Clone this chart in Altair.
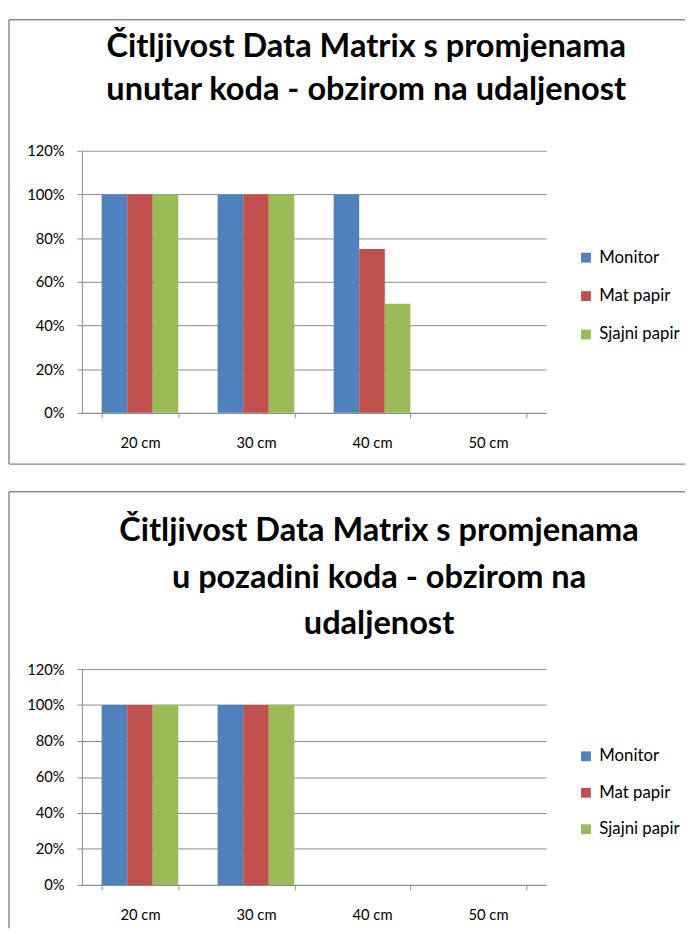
import altair as alt
import pandas as pd

distances = ["20 cm", "30 cm", "40 cm", "50 cm"]
series_names = ["Monitor", "Mat papir", "Sjajni papir"]
series_colors = ["#4F81BD", "#C0504D", "#9BBB59"]

# Chart 1: changes inside the code
top_monitor = [1.00, 1.00, 1.00, 0.0]
top_mat = [1.00, 1.00, 0.75, 0.0]
top_sjajni = [1.00, 1.00, 0.50, 0.0]
top_title = ["Čitljivost Data Matrix s promjenama", "unutar koda - obzirom na udaljenost"]

# Chart 2: changes in the code background
bot_monitor = [1.00, 1.00, 0.0, 0.0]
bot_mat = [1.00, 1.00, 0.0, 0.0]
bot_sjajni = [1.00, 1.00, 0.0, 0.0]
bot_title = ["Čitljivost Data Matrix s promjenama", "u pozadini koda - obzirom na", "udaljenost"]

y_ticks = [0, 0.2, 0.4, 0.6, 0.8, 1.0, 1.2]

GRID = "#8a8a8a"
FONT = "Lato"


def long_df(m, a, s):
    rows = []
    for name, vals in zip(series_names, [m, a, s]):
        for d, v in zip(distances, vals):
            rows.append({"dist": d, "series": name, "value": v})
    return pd.DataFrame(rows)


def panel(df, title_lines, height, legend_y, row_pad, title_dx, title_offset, line_h,
          frame_top, frame_bottom, bottom_line):
    bars = alt.Chart(df).mark_bar().encode(
        x=alt.X("dist:N", sort=distances,
                scale=alt.Scale(domain=distances, paddingInner=0.339, paddingOuter=0.17),
                axis=alt.Axis(title=None, tickBand="extent", tickSize=5, labelPadding=18,
                              labelAngle=0, grid=False, domainColor=GRID, tickColor=GRID,
                              labelFont=FONT, labelFontSize=15, labelColor="#000000")),
        xOffset=alt.XOffset("series:N", sort=series_names,
                            scale=alt.Scale(domain=series_names, paddingInner=0, paddingOuter=0)),
        y=alt.Y("value:Q", scale=alt.Scale(domain=[0, 1.2], nice=False),
                axis=alt.Axis(title=None, values=y_ticks, format=".0%", grid=True,
                              gridColor=GRID, domainColor=GRID, tickColor=GRID, tickSize=5,
                              labelPadding=13, labelFont=FONT, labelFontSize=15,
                              labelColor="#000000")),
        color=alt.Color("series:N", sort=series_names,
                        scale=alt.Scale(domain=series_names, range=series_colors),
                        legend=alt.Legend(title=None, orient="none", legendX=503, legendY=legend_y,
                                          symbolType="square", symbolSize=100,
                                          symbolStrokeWidth=0, labelFont=FONT,
                                          labelFontSize=17, labelColor="#000000",
                                          rowPadding=row_pad, labelOffset=5, padding=0)),
    )
    one = pd.DataFrame({"k": [0]})
    frame = []
    frame.append(alt.Chart(one).mark_rule(color=GRID, strokeWidth=1.5).encode(
        x=alt.value(-74), x2=alt.value(612), y=alt.value(frame_top)))
    frame.append(alt.Chart(one).mark_rule(color=GRID, strokeWidth=1.5).encode(
        x=alt.value(-74), y=alt.value(frame_top), y2=alt.value(frame_bottom)))
    if bottom_line:
        frame.append(alt.Chart(one).mark_rule(color=GRID, strokeWidth=1.5).encode(
            x=alt.value(-74), x2=alt.value(612), y=alt.value(frame_bottom)))
    return alt.layer(*frame, bars).properties(
        width=471, height=height,
        title=alt.Title(title_lines, font=FONT, fontSize=33, fontWeight="bold",
                        color="#000000", anchor="middle", frame="group", dx=title_dx,
                        baseline="alphabetic", offset=title_offset, lineHeight=line_h),
    )


top = panel(long_df(top_monitor, top_mat, top_sjajni), top_title, 266, 100, 21,
            53, -115, 43, -133, 318, True)
bottom = panel(long_df(bot_monitor, bot_mat, bot_sjajni), bot_title, 219, 80, 19,
               66, -178, 47, -180, 263, False)

chart = alt.vconcat(top, bottom, spacing=26).resolve_scale(
    x="independent", y="independent", color="independent", xOffset="independent"
).resolve_legend(color="independent").configure(
    padding={"top": 4, "left": 0, "right": 0, "bottom": 0}, background="#ffffff"
).configure_view(stroke=None)

chart.save("out.html", embed_options={"renderer": "svg", "actions": False})
